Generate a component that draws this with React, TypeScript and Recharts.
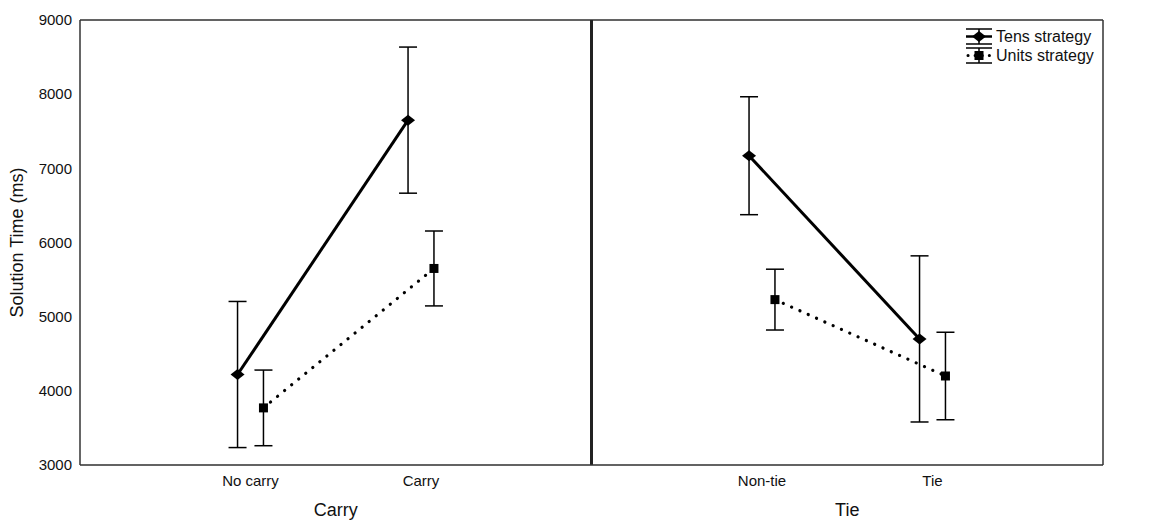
import { ScatterChart, Scatter, XAxis, YAxis, CartesianGrid, ErrorBar, ReferenceLine, Legend } from 'recharts';

const FONT = '"Liberation Sans", Arial, Helvetica, sans-serif';

// x categories (left panel: Carry, right panel: Tie)
const categories = ['No carry', 'Carry', 'Non-tie', 'Tie'];
const categoryPos = [1, 2, 4, 5];
const panelTitles = ['Carry', 'Tie'];
const panelTitlePos = [1.5, 4.5];
const yTicks = [3000, 4000, 5000, 6000, 7000, 8000, 9000];
const legendNames = ['Tens strategy', 'Units strategy'];

// means and error-bar half lengths (ms)
const tensMean = [4220, 7650, 7170, 4700];
const tensErr = [985, 985, 795, 1120];
const unitsMean = [3770, 5650, 5230, 4200];
const unitsErr = [510, 505, 410, 590];

// small horizontal dodge so the two series don't overlap
const SHIFT = 0.076;

const points = (mean: number[], err: number[], idx: number[], shift: number) =>
  idx.map(i => ({ x: categoryPos[i] + shift, y: mean[i], err: err[i] }));

const tensCarry = points(tensMean, tensErr, [0, 1], -SHIFT);
const unitsCarry = points(unitsMean, unitsErr, [0, 1], SHIFT);
const tensTie = points(tensMean, tensErr, [2, 3], -SHIFT);
const unitsTie = points(unitsMean, unitsErr, [2, 3], SHIFT);
// invisible anchor so the panel-title axis gets a scale
const panelAnchor = panelTitlePos.map(x => ({ x, y: 3000 }));

const Diamond = (p: any) => <polygon points={`${p.cx},${p.cy - 5.5} ${p.cx + 7},${p.cy} ${p.cx},${p.cy + 5.5} ${p.cx - 7},${p.cy}`} fill="#000" />;
const Square = (p: any) => <rect x={p.cx - 4.5} y={p.cy - 4.5} width={9} height={9} fill="#000" />;
const Nothing = () => <g />;

const solidLine = { stroke: '#000', strokeWidth: 3 };
const dottedLine = { stroke: '#000', strokeWidth: 3.2, strokeDasharray: '0.1 9', strokeLinecap: 'round' };

const LegendContent = ({ payload }: any) => <div style={{
  fontFamily: FONT,
  fontSize: 16,
  color: '#111'
}}>
    {legendNames.filter(n => (payload || []).some((e: any) => e.value === n)).map(name => {
    const tens = name === 'Tens strategy';
    return <div key={name} style={{
      display: 'flex',
      alignItems: 'center',
      height: 19
    }}>
          <svg width={30} height={19}>
            <line x1={1} x2={27} y1={2} y2={2} stroke="#000" strokeWidth={1.5} />
            <line x1={1} x2={27} y1={17} y2={17} stroke="#000" strokeWidth={1.5} />
            <line x1={14} x2={14} y1={2} y2={17} stroke="#000" strokeWidth={1.5} />
            {tens ? <line x1={1} x2={27} y1={9.5} y2={9.5} stroke="#000" strokeWidth={2.5} /> : <line x1={3} x2={27} y1={9.5} y2={9.5} stroke="#000" strokeWidth={3} strokeDasharray="0.1 7" strokeLinecap="round" />}
            {tens ? <Diamond cx={14} cy={9.5} /> : <Square cx={14} cy={9.5} />}
          </svg>
          <span style={{
        marginLeft: 1
      }}>{name}</span>
        </div>;
  })}
  </div>;

const tick = { fontSize: 15, fill: '#111', fontFamily: FONT };

export default function App() {
  return <div style={{
    position: 'absolute',
    left: 0,
    top: 0,
    background: '#fff'
  }}>
      <ScatterChart width={1158} height={521} margin={{
      top: 20,
      right: 0,
      left: 0,
      bottom: 0
    }}>
        <CartesianGrid vertical={false} stroke="#e6e6e6" />
        <XAxis xAxisId="cat" dataKey="x" type="number" domain={[0, 6]} ticks={categoryPos} tickFormatter={(v: number) => categories[categoryPos.indexOf(v)] ?? ''} interval={0} height={30} tickLine={false} tickSize={0} tickMargin={10} axisLine={{
        stroke: '#333',
        strokeWidth: 1.5
      }} tick={tick} />
        <XAxis xAxisId="panel" dataKey="x" type="number" domain={[0, 6]} ticks={panelTitlePos} tickFormatter={(v: number) => panelTitles[panelTitlePos.indexOf(v)] ?? ''} interval={0} height={26} tickLine={false} tickSize={0} tickMargin={8} axisLine={false} tick={{
        ...tick,
        fontSize: 18
      }} />
        <YAxis yAxisId="left" dataKey="y" type="number" domain={[3000, 9000]} ticks={yTicks} interval={0} width={80} tickLine={false} tickSize={0} tickMargin={8} axisLine={{
        stroke: '#333',
        strokeWidth: 1.5
      }} tick={tick} label={{
        value: 'Solution Time (ms)',
        angle: -90,
        position: 'center',
        dx: -23,
        style: {
          fontSize: 18,
          fill: '#111',
          fontFamily: FONT
        }
      }} />
        <YAxis yAxisId="right" orientation="right" type="number" domain={[3000, 9000]} ticks={yTicks} interval={0} width={55} tickLine={false} tickSize={0} tickMargin={7} axisLine={{
        stroke: '#333',
        strokeWidth: 1.5
      }} tick={tick} />
        <ReferenceLine xAxisId="cat" yAxisId="left" y={9000} stroke="#333" strokeWidth={1.5} />
        <ReferenceLine xAxisId="cat" yAxisId="left" x={3} stroke="#222" strokeWidth={3} />
        <Legend layout="vertical" align="center" verticalAlign="middle" content={<LegendContent />} wrapperStyle={{
        left: 965,
        top: 27,
        width: 'auto'
      }} />
        <Scatter name="panel" legendType="none" xAxisId="panel" yAxisId="left" data={panelAnchor} shape={Nothing} isAnimationActive={false} />
        <Scatter name="Tens strategy" xAxisId="cat" yAxisId="left" data={tensCarry} shape={Diamond} line={solidLine} isAnimationActive={false}>
          <ErrorBar dataKey="err" direction="y" width={9} stroke="#000" strokeWidth={1.5} />
        </Scatter>
        <Scatter name="Units strategy" xAxisId="cat" yAxisId="left" data={unitsCarry} shape={Square} line={dottedLine} isAnimationActive={false}>
          <ErrorBar dataKey="err" direction="y" width={9} stroke="#000" strokeWidth={1.5} />
        </Scatter>
        <Scatter name="Tens tie" legendType="none" xAxisId="cat" yAxisId="left" data={tensTie} shape={Diamond} line={solidLine} isAnimationActive={false}>
          <ErrorBar dataKey="err" direction="y" width={9} stroke="#000" strokeWidth={1.5} />
        </Scatter>
        <Scatter name="Units tie" legendType="none" xAxisId="cat" yAxisId="left" data={unitsTie} shape={Square} line={dottedLine} isAnimationActive={false}>
          <ErrorBar dataKey="err" direction="y" width={9} stroke="#000" strokeWidth={1.5} />
        </Scatter>
      </ScatterChart>
    </div>;
}
